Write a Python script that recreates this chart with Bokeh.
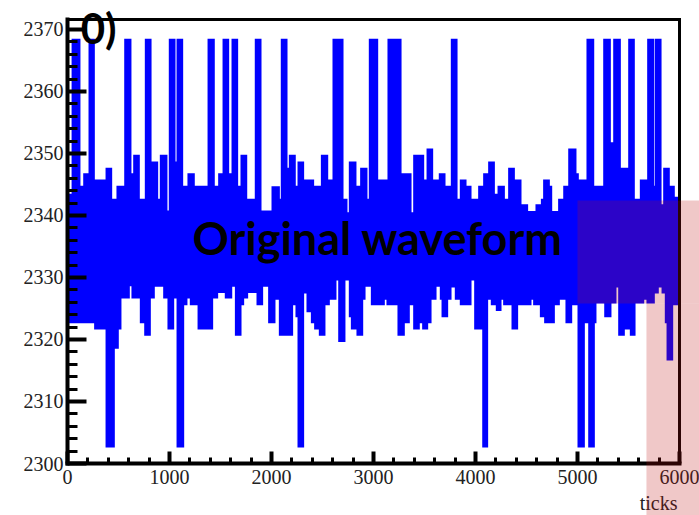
from bokeh.plotting import figure
from bokeh.models import BoxAnnotation, Label, SingleIntervalTicker, FixedTicker, Range1d, LinearAxis
from bokeh.embed import file_html
from bokeh.resources import INLINE

# Waveform envelope as step functions over ticks: each value holds from its
# start tick until the next start (last one runs to 6000).
upper_start = [0, 40, 127, 154, 206, 268, 373, 438, 480, 556, 627, 644, 709, 758, 824, 889, 905, 980, 993,
               1059, 1069, 1134, 1176, 1248, 1373, 1444, 1477, 1520, 1585, 1608, 1673, 1696, 1762, 1836, 1902,
               2000, 2082, 2091, 2157, 2170, 2238, 2255, 2320, 2418, 2484, 2556, 2598, 2706, 2745, 2758, 2833,
               2869, 2941, 2954, 3046, 3137, 3275, 3373, 3389, 3497, 3520, 3585, 3640, 3706, 3758, 3824, 3846,
               3912, 3961, 4026, 4075, 4124, 4190, 4216, 4288, 4320, 4386, 4451, 4516, 4588, 4641, 4663, 4729,
               4752, 4810, 4860, 4909, 4990, 5013, 5088, 5164, 5252, 5327, 5350, 5425, 5497, 5562, 5611, 5683,
               5752, 5758, 5824, 5840, 5905, 5954]
upper_val = [2343.5, 2368.5, 2344.8, 2346.8, 2368.5, 2345.8, 2347.7, 2342.7, 2344.8, 2368.5, 2346.8, 2349.8,
             2342.7, 2368.5, 2348.7, 2342.7, 2349.8, 2340.8, 2368.5, 2348.7, 2368.5, 2344.8, 2346.8, 2344.8,
             2368.5, 2344.8, 2346.8, 2368.5, 2346.8, 2368.5, 2344.8, 2349.8, 2342.7, 2368.5, 2340.8,
             2344.7, 2342.7, 2368.5, 2347.7, 2349.8, 2344.8, 2348.7, 2345.8, 2344.8, 2349.8, 2345.8, 2368.5,
             2342.7, 2340.5, 2348.7, 2344.8, 2347.7, 2342.7, 2368.5, 2345.8, 2368.5, 2346.8, 2340.5, 2349.8,
             2345.8, 2350.8, 2345.8, 2346.8, 2344.8, 2368.5, 2342.7, 2345.8, 2344.8, 2342.7, 2344.8, 2346.8,
             2348.7, 2343.5, 2344.8, 2342.7, 2347.7, 2345.8, 2341.8, 2340.7, 2341.8, 2342.7, 2345.8, 2344.8,
             2340.7, 2342.7, 2344.8, 2350.8, 2346.8, 2345.8, 2368.5, 2344.8, 2368.5, 2351.8, 2368.5, 2347.7,
             2368.5, 2342.7, 2345.8, 2368.5, 2344.8, 2368.5, 2341.8, 2347.7, 2344.8, 2343.0]

lower_start = [0, 261, 373, 464, 503, 529, 611, 627, 709, 752, 817, 856, 938, 980, 1046, 1069, 1144, 1176, 1199,
               1275, 1428, 1477, 1542, 1615, 1641, 1706, 1732, 1771, 1853, 1918, 1967, 2039, 2072, 2212, 2235,
               2255, 2320, 2343, 2386, 2418, 2464, 2529, 2572, 2637, 2654, 2725, 2758, 2778, 2833, 2899, 2922,
               2974, 3111, 3127, 3235, 3307, 3356, 3389, 3454, 3477, 3536, 3569, 3618, 3650, 3667, 3732, 3765,
               3797, 3846, 3961, 3987, 4066, 4124, 4150, 4199, 4255, 4271, 4353, 4418, 4549, 4565, 4631, 4673,
               4778, 4827, 4882, 4948, 5000, 5072, 5105, 5170, 5186, 5262, 5333, 5382, 5399, 5464, 5513, 5569,
               5654, 5676, 5758, 5797, 5824, 5856, 5873, 5938]
lower_val = [2322.6, 2321.6, 2302.6, 2318.5, 2321.6, 2326.6, 2328.6, 2326.6, 2322.6, 2320.6, 2326.6, 2328.5,
             2326.6, 2321.6, 2326.6, 2302.6, 2325.5, 2326.6, 2325.5, 2321.6, 2326.6, 2327.5, 2326.6, 2328.5,
             2320.6, 2325.5, 2326.6, 2327.5, 2325.5, 2328.5, 2322.6, 2326.4, 2320.6, 2325.5, 2323.6, 2302.6,
             2327.4, 2324.4, 2322.6, 2321.6, 2320.6, 2325.5, 2326.4, 2329.5, 2319.6, 2329.5, 2323.6, 2321.6,
             2320.6, 2326.4, 2328.5, 2325.5, 2326.4, 2325.5, 2320.6, 2322.6, 2325.5, 2321.6, 2322.6, 2321.6,
             2322.6, 2326.4, 2328.5, 2326.4, 2323.6, 2326.4, 2328.4, 2326.4, 2325.5, 2329.5, 2321.6, 2302.6,
             2326.4, 2325.5, 2324.6, 2326.4, 2325.5, 2321.6, 2325.5, 2326.4, 2325.5, 2323.6, 2322.6, 2325.5,
             2326.4, 2322.6, 2325.5, 2302.6, 2322.6, 2302.6, 2322.6, 2325.8, 2323.6, 2325.8, 2328.4, 2320.6,
             2321.6, 2320.6, 2325.8, 2326.4, 2325.8, 2327.4, 2328.4, 2327.4, 2322.6, 2316.6, 2325.5]

N_TICKS = 6000
Y_MIN, Y_MAX = 2300, 2371.6
BLUE = "#0000ff"
SERIF = "Liberation Serif"

W, H = 699, 515
FRAME_L, FRAME_R, FRAME_T, FRAME_B = 67, 679, 19, 463
# the plotting area spans the whole canvas; the boxed axes sit at fixed data
# locations inside it, so everything around the box keeps the same scales
sx = (FRAME_R - FRAME_L) / N_TICKS
sy = (FRAME_B - FRAME_T) / (Y_MAX - Y_MIN)
x_lo, x_hi = -FRAME_L / sx, N_TICKS + (W - FRAME_R) / sx
y_lo, y_hi = Y_MIN - (H - FRAME_B) / sy, Y_MAX + FRAME_T / sy

p = figure(width=W, height=H, output_backend="svg", toolbar_location=None,
           x_range=Range1d(x_lo, x_hi), y_range=Range1d(y_lo, y_hi),
           min_border=0, x_axis_location="below", y_axis_location="left")
p.title.visible = False
p.background_fill_color = "white"
p.border_fill_color = "white"
p.xgrid.visible = False
p.ygrid.visible = False
p.outline_line_color = None

# upper half of the band, from the centre up to the envelope
ux = upper_start + [N_TICKS]
uy = upper_val + [upper_val[-1]]
p.varea_step(x=ux, y1=[2334.0] * len(ux), y2=uy, step_mode="after", fill_color=BLUE)

# lower half of the band, from the envelope up to the centre
lx = lower_start + [N_TICKS]
ly = lower_val + [lower_val[-1]]
p.varea_step(x=lx, y1=ly, y2=[2336.0] * len(lx), step_mode="after", fill_color=BLUE)

# axes in a boxed, inward-tick style
p.xaxis.fixed_location = Y_MIN
p.xaxis.bounds = (0, N_TICKS)
p.yaxis.fixed_location = 0
p.yaxis.bounds = (Y_MIN, Y_MAX)
p.xaxis.ticker = SingleIntervalTicker(interval=1000, num_minor_ticks=5)
p.yaxis.ticker = SingleIntervalTicker(interval=10, num_minor_ticks=5)
for ax in (p.xaxis, p.yaxis):
    ax.axis_line_width = 4
    ax.axis_line_color = "black"
    ax.axis_line_cap = "square"
    ax.major_tick_out = 0
    ax.minor_tick_out = 0
    ax.major_tick_line_width = 4
    ax.minor_tick_line_width = 3
    ax.major_tick_line_color = "black"
    ax.minor_tick_line_color = "black"
    ax.major_label_text_font = SERIF
    ax.major_label_text_font_size = "20px"
    ax.major_label_text_color = "#222222"
p.xaxis.major_tick_in = 12
p.xaxis.minor_tick_in = 6
p.xaxis.major_label_standoff = 6
p.yaxis.major_tick_in = 19
p.yaxis.minor_tick_in = 10
p.yaxis.major_label_standoff = 4

# top and right edges of the box: plain lines, no ticks
top = LinearAxis(fixed_location=Y_MAX, bounds=(0, N_TICKS), ticker=FixedTicker(ticks=[]),
                 axis_line_width=3, axis_line_cap="square", major_tick_in=0, major_tick_out=0,
                 minor_tick_in=0, minor_tick_out=0)
right = LinearAxis(fixed_location=N_TICKS, bounds=(Y_MIN, Y_MAX), ticker=FixedTicker(ticks=[]),
                   axis_line_width=3, axis_line_cap="square", major_tick_in=0, major_tick_out=0,
                   minor_tick_in=0, minor_tick_out=0)
p.add_layout(top, "above")
p.add_layout(right, "right")

p.add_layout(Label(x=5980, y=2293.6, text="ticks", text_align="right", text_baseline="alphabetic",
                   text_font=SERIF, text_font_size="20px", text_color="#222222"))

p.add_layout(Label(x=1225, y=2336.4, text="Original waveform", text_baseline="alphabetic",
                   text_font="Lato", text_font_style="bold", text_font_size="45px", text_color="black"))

p.add_layout(Label(x=130, y=2370.3, text="0)", text_baseline="alphabetic",
                   text_font="Lato", text_font_style="bold", text_font_size="42px", text_color="black"))

# translucent highlight boxes over the tail of the record
HILITE = (191, 17, 17)
p.add_layout(BoxAnnotation(left=5000, right=x_hi, top=2342.4, bottom=2325.8,
                           fill_color=HILITE, fill_alpha=0.23, line_alpha=0))
p.add_layout(BoxAnnotation(left=5676, right=x_hi, top=2325.8, bottom=y_lo,
                           fill_color=HILITE, fill_alpha=0.23, line_alpha=0))

open("out.html", "w").write(file_html(p, INLINE))
